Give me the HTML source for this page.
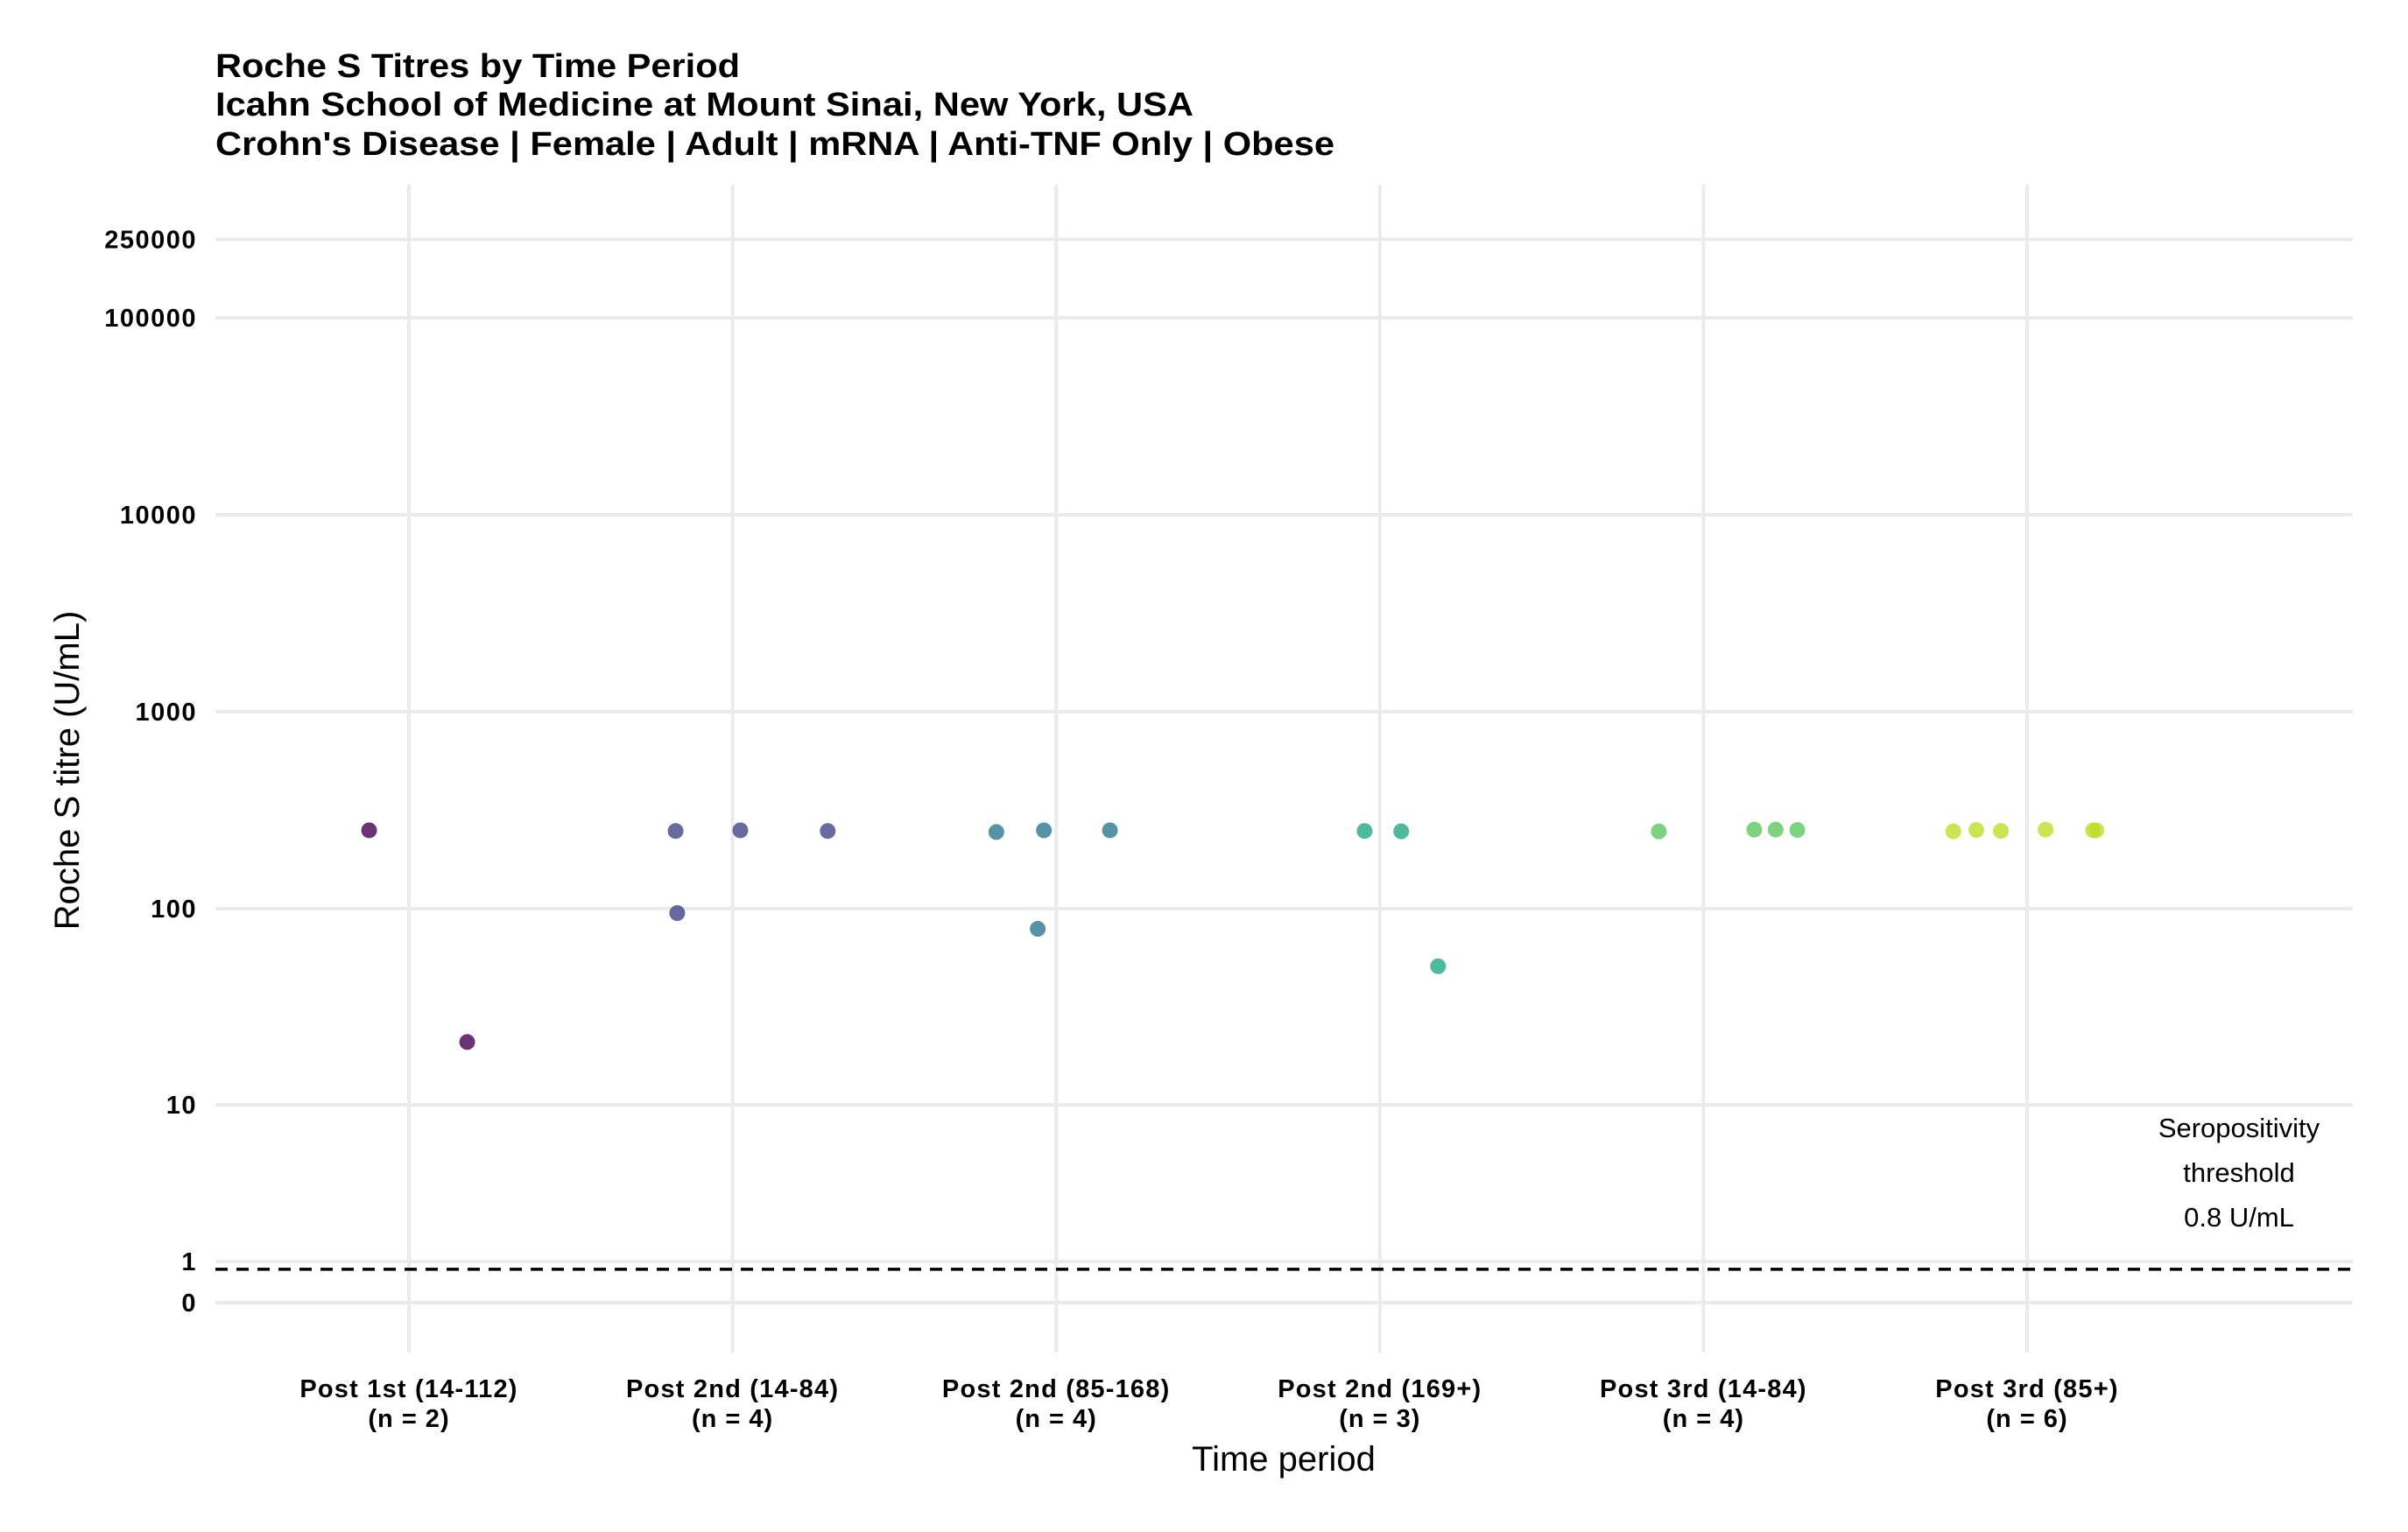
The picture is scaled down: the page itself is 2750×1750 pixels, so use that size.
<!DOCTYPE html>
<html><head><meta charset="utf-8"><style>
html,body{margin:0;padding:0;background:#fff;}
svg{display:block;font-family:"Liberation Sans",sans-serif;}
</style></head><body>
<svg id="chart" width="2750" height="1750" viewBox="0 0 2750 1750">
<g font-weight="bold" font-size="38" fill="#000">
<text x="246" y="88" textLength="599" lengthAdjust="spacingAndGlyphs">Roche S Titres by Time Period</text>
<text x="246" y="132" textLength="1117" lengthAdjust="spacingAndGlyphs">Icahn School of Medicine at Mount Sinai, New York, USA</text>
<text x="246" y="177" textLength="1278" lengthAdjust="spacingAndGlyphs">Crohn's Disease | Female | Adult | mRNA | Anti-TNF Only | Obese</text>
</g>
<g id="grid"></g>
<g id="yticks"></g>
<g id="xticks"></g>
<line id="thresh" stroke="#000" stroke-width="3.5" stroke-dasharray="14,10"/>
<g font-size="31" text-anchor="middle" fill="#000">
<text x="2557" y="1299">Seropositivity</text>
<text x="2557" y="1350">threshold</text>
<text x="2557" y="1401">0.8 U/mL</text>
</g>
<g id="points"></g>
<text x="1466" y="1680" font-size="40" text-anchor="middle">Time period</text>
<text transform="translate(90,880) rotate(-90)" font-size="40" text-anchor="middle">Roche S titre (U/mL)</text>
</svg>
<script>
const categories = ["Post 1st (14-112)","Post 2nd (14-84)","Post 2nd (85-168)","Post 2nd (169+)","Post 3rd (14-84)","Post 3rd (85+)"];
const counts = [2,4,4,3,4,6];
const colors = ["#440154","#414487","#2A788E","#22A884","#5DC863","#BADE28"];
const yTicks = [0,1,10,100,1000,10000,100000,250000];
const threshold = 0.8;
const pointCat = [0,0, 1,1,1,1, 2,2,2,2, 3,3,3, 4,4,4,4, 5,5,5,5,5,5];
const pointVal = [250,21, 248,95,250,248, 245,79,250,250, 248,247,51, 247,252,252,251, 247,251,248,252,250,250];
const pointJitter = [-0.123,0.18, -0.176,-0.171,0.024,0.294, -0.185,-0.057,-0.038,0.166, -0.047,0.066,0.18, -0.138,0.157,0.223,0.29, -0.228,-0.157,-0.081,0.057,0.204,0.214];

const NS="http://www.w3.org/2000/svg";
const L=246,R=2687,T=211,B=1545;
const x0=467, step=369.6;
function xPos(c){return x0+c*step;}
function yPos(v){return 1488 - Math.asinh(v/2)/Math.LN10*225;}
function mk(tag,attrs,parent){const e=document.createElementNS(NS,tag);for(const k in attrs)e.setAttribute(k,attrs[k]);parent.appendChild(e);return e;}
const grid=document.getElementById('grid');
const yt=document.getElementById('yticks');
yTicks.forEach(v=>{
  const y=yPos(v);
  const ln=mk('line',{x1:L,x2:R,y1:y,y2:y,stroke:'#ebebeb','stroke-width':4},grid);
  
  
  const t=mk('text',{x:225,y:y+10,'text-anchor':'end','font-size':29,'font-weight':'bold','letter-spacing':1.5},yt);
  
  
  t.textContent=String(v);
});
const xt=document.getElementById('xticks');
categories.forEach((c,i)=>{
  const x=xPos(i);
  const ln=mk('line',{x1:x,x2:x,y1:T,y2:B,stroke:'#ebebeb','stroke-width':4},grid);
  
  
  const t=mk('text',{x:x,y:1596,'text-anchor':'middle','font-size':29,'font-weight':'bold','letter-spacing':1.2},xt);
  
  
  t.textContent=c;
  const t2=mk('text',{x:x,y:1630,'text-anchor':'middle','font-size':29,'font-weight':'bold','letter-spacing':1},xt);
  
  
  t2.textContent='(n = '+counts[i]+')';
});
const th=document.getElementById('thresh');
th.setAttribute('x1',L);th.setAttribute('x2',R);
th.setAttribute('y1',yPos(threshold));th.setAttribute('y2',yPos(threshold));
const pts=document.getElementById('points');
pointVal.forEach((v,i)=>{
  const c=pointCat[i];
  const p=mk('circle',{cx:xPos(c+pointJitter[i]),cy:yPos(v),r:9,fill:colors[c],'fill-opacity':0.8},pts);
  
  
});
</script>
</body></html>
